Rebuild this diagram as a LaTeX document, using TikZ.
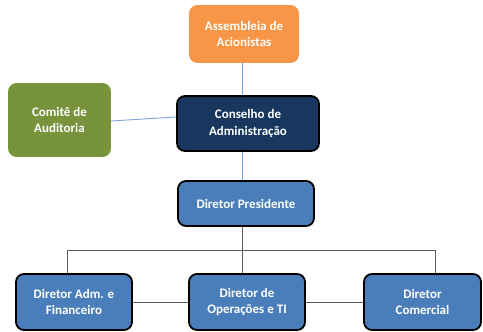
\documentclass[tikz,border=0pt]{standalone}
\usepackage{fontspec}
\setmainfont{Carlito}
\definecolor{orgc}{HTML}{F79646}
\definecolor{grnc}{HTML}{77933C}
\definecolor{navc}{HTML}{17375E}
\definecolor{bluc}{HTML}{4A7EBB}
\definecolor{lblc}{HTML}{7BA4D6}
\definecolor{gryc}{HTML}{5A5A5A}
\tikzset{
  box/.style={rounded corners=8pt, align=center, text=white, inner sep=0pt,
    font=\bfseries\fontsize{13}{16.5}\selectfont},
  plainbox/.style={box, draw=#1, fill=#1, line width=0.8pt},
  darkbox/.style={box, draw=black, fill=#1, line width=1.8pt},
  blueline/.style={draw=lblc, line width=0.9pt},
  greyline/.style={draw=gryc, line width=0.7pt}
}
\begin{document}
\begin{tikzpicture}[x=1pt,y=-1pt]
\useasboundingbox (0,0) rectangle (483,332);
\coordinate (trunk) at (242,0);
\coordinate (bus) at (0,250);
\coordinate (lft) at (67,0);
\coordinate (rgt) at (435,0);
\node[plainbox=orgc, minimum width=109pt, minimum height=57pt] (asm) at (244,34) {Assembleia de\\Acionistas};
\node[plainbox=grnc, minimum width=102pt, minimum height=73pt] (com) at (59.5,120) {Comitê de\\Auditoria};
\node[darkbox=navc, minimum width=142pt, minimum height=55pt] (con) at (248,123.5) {Conselho de\\Administração};
\node[darkbox=bluc, minimum width=136pt, minimum height=45pt] (dp) at (246,203.5) {Diretor Presidente};
\node[darkbox=bluc, minimum width=116pt, minimum height=56pt] (b1) at (74,302) {Diretor Adm. e\\Financeiro};
\node[darkbox=bluc, minimum width=116pt, minimum height=56pt] (b2) at (247,302) {Diretor de\\Operações e TI};
\node[darkbox=bluc, minimum width=117pt, minimum height=56pt] (b3) at (422.5,302) {Diretor\\Comercial};
\draw[blueline] (asm.south -| trunk) -- (con.north -| trunk);
\draw[blueline] ([yshift=-1pt]com.east) -- ([yshift=6.5pt]con.west);
\draw[blueline] (con.south -| trunk) -- (dp.north -| trunk);
\draw[greyline] (dp.south -| trunk) -- (b2.north -| trunk);
\draw[greyline] (b1.north -| lft) -- (bus -| lft) -- (bus -| rgt) -- (b3.north -| rgt);
\draw[greyline] (b1.east) -- (b2.west);
\draw[greyline] (b2.east) -- (b3.west);
\end{tikzpicture}
\end{document}
